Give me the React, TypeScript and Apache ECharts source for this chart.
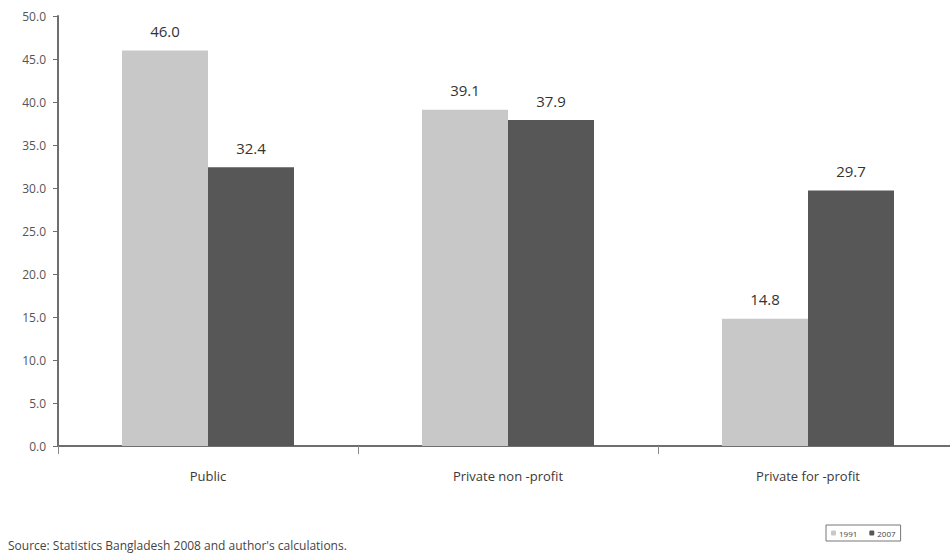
import React, { useEffect, useRef } from "react";
import * as echarts from "echarts";

const categories = ["Public", "Private non -profit", "Private for -profit"];
const series1991 = [46.0, 39.1, 14.8];
const series2007 = [32.4, 37.9, 29.7];
const seriesNames = ["1991", "2007"];
const sourceNote = "Source: Statistics Bangladesh 2008 and author's calculations.";

export default function App() {
  const ref = useRef<HTMLDivElement>(null);
  useEffect(() => {
    document.body.style.margin = "0";
    const chart = echarts.init(ref.current!, undefined, { renderer: "svg" });
    const font = "'Open Sans', 'Noto Sans', sans-serif";
    const labelCfg = {
      show: true,
      position: "top",
      distance: 12,
      fontSize: 15,
      color: "#333",
      fontFamily: font,
      formatter: (p: any) => p.value.toFixed(1),
    };
    chart.setOption({
      animation: false,
      backgroundColor: "#ffffff",
      textStyle: { fontFamily: font },
      grid: { left: 58, right: 2, top: 16, bottom: 108 },
      legend: {
        left: 826,
        top: 525,
        data: seriesNames,
        itemWidth: 5,
        itemHeight: 5,
        itemGap: 12,
        borderWidth: 1,
        borderColor: "#777",
        padding: [4, 5, 4, 5],
        textStyle: { fontSize: 8, color: "#444", fontFamily: font, padding: [0, 0, 0, -2] },
      },
      xAxis: {
        type: "category",
        data: categories,
        axisLine: { lineStyle: { color: "#6e6e6e", width: 2 } },
        axisTick: { show: true, length: 8, lineStyle: { color: "#8a8a8a", width: 1 } },
        axisLabel: { fontSize: 13, color: "#3a3a3a", margin: 23, fontFamily: font },
      },
      yAxis: {
        type: "value",
        min: 0,
        max: 50,
        interval: 5,
        axisLine: { show: true, lineStyle: { color: "#6e6e6e", width: 2 } },
        axisTick: { show: true, length: 5, lineStyle: { color: "#6e6e6e", width: 1 } },
        splitLine: { show: false },
        axisLabel: {
          fontSize: 12,
          color: "#555",
          margin: 12,
          fontFamily: font,
          formatter: (v: number) => v.toFixed(1),
        },
      },
      series: [
        {
          name: seriesNames[0],
          type: "bar",
          data: series1991,
          barWidth: 86,
          barGap: "0%",
          itemStyle: { color: "#c8c8c8" },
          label: labelCfg,
        },
        {
          name: seriesNames[1],
          type: "bar",
          data: series2007,
          barWidth: 86,
          barGap: "0%",
          itemStyle: { color: "#575757" },
          label: labelCfg,
        },
      ],
      graphic: [
        {
          type: "text",
          left: 8,
          top: 539,
          style: { text: sourceNote, fontSize: 12, fill: "#444", fontFamily: font },
        },
      ],
    });
    return () => chart.dispose();
  }, []);
  return (
    <div style={{ width: 950, height: 554, overflow: "hidden", position: "relative" }}>
      <div ref={ref} style={{ width: 960, height: 554, position: "absolute", left: 0, top: 0 }} />
    </div>
  );
}
